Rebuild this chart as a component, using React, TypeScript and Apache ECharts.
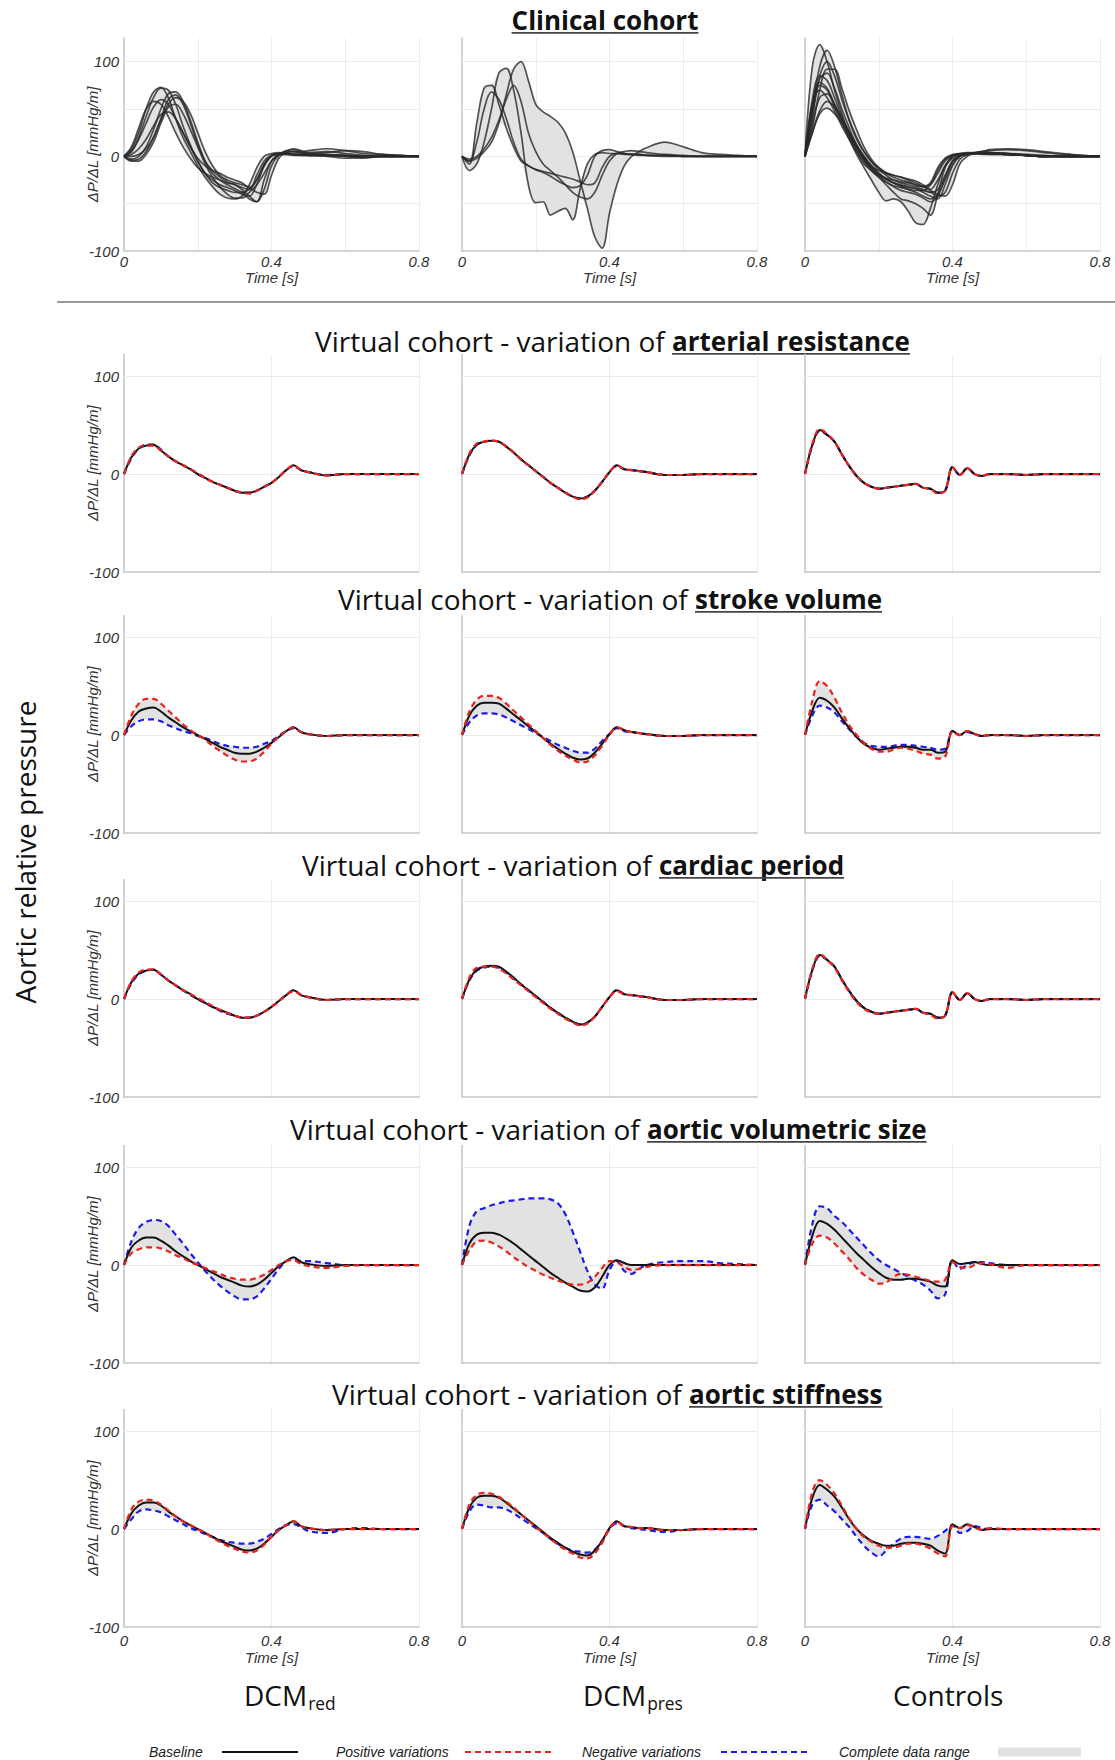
import React, { useEffect, useRef } from "react";
import * as echarts from "echarts";

// ---------- time grid (s) ----------
const T = [0, 0.02, 0.04, 0.06, 0.08, 0.1, 0.12, 0.14, 0.16, 0.18, 0.2, 0.22, 0.24, 0.26, 0.28, 0.3, 0.32, 0.34, 0.36, 0.38, 0.4, 0.42, 0.44, 0.46, 0.48, 0.5, 0.55, 0.6, 0.65, 0.7, 0.75, 0.8];

// ---------- clinical cohort (ΔP/ΔL, mmHg/m) ----------
const clinicalRed = [
  [0, 8, 25, 50, 68, 73, 62, 40, 20, 5, -10, -22, -32, -40, -44, -45, -42, -30, -12, 0, 3, 4, 3, 2, 2, 2, 1, 1, 0, 0, 0, 0],
  [0, 5, 20, 42, 62, 72, 70, 55, 32, 12, -5, -18, -25, -30, -33, -36, -40, -42, -30, -10, 1, 3, 3, 2, 2, 1, 1, 1, 0, 0, 0, 0],
  [0, -3, 0, 10, 28, 50, 66, 68, 58, 38, 15, -5, -18, -25, -30, -34, -38, -45, -48, -25, -5, 2, 6, 8, 6, 4, 5, 3, 1, 0, 0, 0],
  [0, -4, -3, 5, 20, 40, 60, 65, 55, 35, 12, -5, -15, -22, -27, -30, -35, -42, -48, -35, -10, 1, 4, 5, 4, 3, 4, 6, 5, 2, 1, 0],
  [0, 5, 18, 35, 52, 60, 55, 40, 25, 10, -2, -10, -15, -18, -22, -25, -28, -33, -25, -8, 1, 3, 3, 2, 2, 1, 1, 0, -2, 0, 0, 0],
  [0, 2, 8, 18, 32, 44, 47, 40, 25, 10, -5, -18, -28, -33, -36, -38, -38, -35, -25, -10, 0, 2, 2, 1, 1, 1, 0, -2, -1, 0, 0, 0],
  [0, -5, -5, 2, 15, 35, 52, 55, 45, 28, 10, -8, -22, -32, -40, -44, -44, -38, -30, -18, -5, 2, 5, 7, 5, 6, 8, 6, 3, 2, 1, 0],
  [0, 10, 30, 50, 58, 55, 42, 25, 10, -2, -12, -18, -22, -25, -28, -30, -33, -35, -20, -5, 1, 2, 2, 2, 1, 1, 1, 0, 0, 0, 0, 0],
  [0, 0, 2, 8, 20, 38, 55, 62, 58, 45, 25, 5, -10, -20, -25, -28, -30, -33, -38, -40, -20, -2, 4, 5, 4, 3, 2, 1, 0, 0, 0, 0],
];
const clinicalPres = [
  [0, -8, 35, 72, 75, 55, 30, 10, -5, -10, -14, -16, -18, -20, -22, -24, -27, -30, -28, -12, 0, 3, 3, 2, 2, 1, 1, 0, 0, 0, 0, 0],
  [0, -15, -8, 15, 50, 88, 93, 70, 25, -30, -49, -48, -62, -58, -55, -67, -35, -8, 2, 4, 3, 3, 2, 2, 1, 1, 1, 0, 0, 0, 0, 0],
  [0, -5, -2, 5, 15, 35, 65, 92, 100, 80, 55, 47, 42, 36, 25, 5, -25, -55, -85, -97, -60, -30, -10, 0, 5, 9, 15, 10, 4, 2, 1, 0],
  [0, -5, 15, 50, 68, 60, 40, 15, -3, -10, -14, -17, -21, -26, -30, -33, -31, -20, 0, 6, 7, 5, 3, 2, 2, 1, 0, 0, 0, 0, 0, 0],
  [0, -3, 0, 8, 20, 38, 60, 75, 58, 25, 5, -8, -15, -22, -30, -38, -43, -45, -38, -20, -5, 3, 5, 6, 5, 4, 2, 1, 0, 0, 0, 0],
];
const clinicalCtrl = [
  [0, 95, 118, 100, 70, 45, 22, 5, -8, -15, -20, -23, -25, -27, -28, -30, -32, -28, -12, -2, 2, 3, 3, 3, 4, 4, 3, 1, 0, 0, 0, 0],
  [0, 50, 95, 112, 95, 65, 38, 18, 5, -5, -12, -18, -22, -25, -27, -30, -32, -30, -18, -5, 1, 2, 3, 3, 4, 4, 3, 2, 1, 0, 0, 0],
  [0, 40, 85, 100, 85, 60, 38, 20, 5, -6, -14, -20, -25, -28, -30, -32, -35, -38, -35, -20, -5, 1, 3, 3, 3, 3, 2, 1, 0, 0, 0, 0],
  [0, 50, 82, 88, 72, 50, 30, 12, 0, -10, -18, -24, -28, -32, -35, -38, -42, -45, -40, -25, -8, 0, 2, 3, 3, 3, 2, 1, 0, 0, 0, 0],
  [0, 55, 78, 72, 55, 38, 22, 8, -4, -14, -22, -30, -38, -45, -47, -50, -55, -62, -40, -12, 0, 2, 3, 3, 3, 2, 2, 1, 0, 0, 0, 0],
  [0, 45, 75, 70, 52, 35, 18, 2, -12, -25, -38, -47, -45, -48, -58, -70, -72, -55, -30, -10, -2, 2, 3, 3, 2, 2, 2, 1, 0, 0, 0, 0],
  [0, 55, 70, 62, 48, 32, 18, 5, -6, -15, -22, -27, -31, -33, -35, -36, -36, -30, -15, -3, 1, 2, 2, 3, 3, 3, 2, 1, 0, 0, 0, 0],
  [0, 35, 62, 66, 55, 40, 25, 10, -3, -12, -18, -24, -28, -30, -32, -34, -38, -42, -45, -30, -10, 0, 2, 3, 3, 3, 2, 1, 0, 0, 0, 0],
  [0, 25, 48, 58, 52, 40, 26, 12, 0, -10, -18, -24, -28, -31, -33, -34, -36, -38, -42, -38, -18, -3, 2, 4, 5, 4, 3, 1, 0, 0, 0, 0],
  [0, 25, 45, 51, 45, 35, 22, 10, -2, -10, -15, -18, -20, -22, -24, -26, -30, -35, -25, -10, 0, 3, 4, 4, 5, 7, 8, 7, 5, 3, 1, 0],
  [0, 60, 85, 80, 62, 42, 25, 10, -2, -12, -20, -27, -32, -36, -38, -40, -44, -48, -42, -22, -5, 1, 3, 3, 3, 3, 2, 1, 0, 0, 0, 0],
  [0, 30, 70, 92, 92, 72, 48, 28, 10, -3, -12, -17, -20, -22, -25, -28, -32, -36, -40, -42, -30, -8, 0, 3, 5, 6, 7, 6, 4, 2, 1, 0],
];

// ---------- virtual cohort: arterial resistance ----------
const arRedBase = [0, 17, 26, 29, 30, 24, 18, 13, 9, 5, 0, -4, -8, -11, -14, -17, -19, -19, -17, -13, -9, -3, 4, 9, 4, 2, -1.5, 0, 0, 0, 0, 0];
const arRedPos = [0, 18, 27, 29, 29, 24, 18, 13, 9, 5, 1, -4, -8, -11, -14, -17, -19, -20, -17, -13, -9, -3, 4, 9, 4, 2, -1.5, 0, 0, 0, 0, 0];
const arRedNeg = [0, 16, 26, 30, 30, 25, 18, 13, 9, 5, 0, -4, -8, -11, -14, -17, -19, -19, -17, -13, -9, -3, 4, 8, 4, 2, -1, 0, 0, 0, 0, 0];
const arPresBase = [0, 20, 30, 33, 34, 33, 28, 22, 15, 9, 3, -3, -9, -14, -19, -23, -25, -23, -17, -8, 2, 9, 5, 4, 3, 2, -1, -1, 0, 0, 0, 0];
const arPresPos = [0, 21, 31, 33, 34, 33, 28, 22, 15, 9, 3, -3, -9, -14, -19, -23, -26, -24, -17, -8, 2, 9, 5, 4, 3, 2, -1, -1, 0, 0, 0, 0];
const arPresNeg = [0, 19, 30, 33, 34, 33, 28, 22, 15, 9, 3, -3, -9, -14, -19, -23, -25, -23, -17, -8, 2, 8, 5, 4, 3, 2, -1, -1, 0, 0, 0, 0];
const arCtrlBase = [0, 30, 45, 40, 33, 20, 8, -2, -9, -13, -15, -14, -13, -12, -11, -10, -14, -15, -19, -17, 7, -1, 6, 0, -2, 0, 0, -1, 0, 0, 0, 0];
const arCtrlPos = [0, 31, 46, 41, 33, 20, 8, -2, -9, -13, -15, -14, -13, -12, -11, -10, -14, -15, -20, -17, 7, -1, 6, 0, -2, 0, 0, -1, 0, 0, 0, 0];
const arCtrlNeg = [0, 29, 44, 40, 33, 20, 8, -2, -9, -13, -15, -14, -13, -12, -11, -10, -14, -15, -19, -17, 7, -1, 6, 0, -2, 0, 0, -1, 0, 0, 0, 0];

// ---------- virtual cohort: stroke volume ----------
const svRedBase = [0, 15, 24, 27, 28, 24, 18, 13, 8, 4, 0, -4, -8, -12, -15, -18, -19, -19, -17, -13, -8, -2, 4, 8, 3, 1, -1, 0, 0, 0, 0, 0];
const svRedPos = [0, 20, 32, 37, 37, 32, 25, 18, 11, 5, 0, -5, -11, -16, -21, -25, -27, -27, -24, -17, -9, -2, 4, 8, 3, 1, -1, 0, 0, 0, 0, 0];
const svRedNeg = [0, 9, 14, 16, 16, 14, 10, 7, 4, 2, -1, -3, -6, -9, -11, -12, -13, -13, -12, -9, -6, -1, 4, 7, 3, 1, -1, 0, 0, 0, 0, 0];
const svPresBase = [0, 20, 30, 33, 33, 32, 27, 21, 15, 9, 3, -3, -9, -14, -19, -23, -25, -24, -18, -9, 1, 8, 5, 3, 2, 1, -1, -1, 0, 0, 0, 0];
const svPresPos = [0, 24, 36, 40, 40, 38, 32, 25, 18, 11, 4, -3, -10, -16, -21, -25, -28, -27, -21, -11, 0, 8, 5, 3, 2, 1, -1, -1, 0, 0, 0, 0];
const svPresNeg = [0, 13, 20, 22, 22, 21, 18, 14, 10, 6, 2, -2, -6, -10, -13, -16, -18, -18, -14, -6, 1, 7, 4, 3, 2, 1, -1, -1, 0, 0, 0, 0];
const svCtrlBase = [0, 25, 38, 35, 28, 17, 7, -2, -9, -13, -15, -14, -13, -12, -12, -13, -15, -15, -18, -17, 4, 0, 4, 1, -1, 0, 0, -1, 0, 0, 0, 0];
const svCtrlPos = [0, 35, 55, 50, 38, 23, 10, 0, -8, -14, -17, -17, -15, -13, -14, -16, -19, -20, -24, -22, 3, 0, 4, 1, -1, 0, 0, -1, 0, 0, 0, 0];
const svCtrlNeg = [0, 20, 30, 28, 23, 14, 6, -2, -8, -11, -12, -12, -11, -10, -10, -11, -12, -13, -15, -14, 4, 0, 3, 1, -1, 0, 0, -1, 0, 0, 0, 0];

// ---------- virtual cohort: cardiac period ----------
const cpRedBase = [0, 17, 26, 29, 30, 25, 19, 14, 9, 5, 0, -4, -8, -11, -14, -17, -19, -19, -17, -13, -8, -2, 4, 9, 4, 2, -1, 0, 0, 0, 0, 0];
const cpRedPos = [0, 18, 27, 30, 30, 25, 19, 14, 9, 5, 1, -3, -7, -11, -14, -17, -19, -19, -17, -13, -8, -2, 4, 8, 4, 2, -1, 0, 0, 0, 0, 0];
const cpRedNeg = [0, 16, 25, 29, 30, 25, 19, 14, 9, 4, 0, -4, -8, -12, -15, -17, -19, -19, -17, -13, -8, -2, 4, 9, 4, 2, -1, 0, 0, 0, 0, 0];
const cpPresBase = [0, 20, 30, 33, 34, 33, 28, 22, 15, 9, 3, -3, -9, -14, -19, -23, -26, -24, -18, -8, 2, 9, 5, 4, 3, 2, -1, -1, 0, 0, 0, 0];
const cpPresPos = [0, 22, 32, 33, 33, 31, 26, 20, 14, 8, 2, -4, -10, -15, -20, -24, -27, -25, -18, -8, 2, 8, 5, 4, 3, 2, -1, -1, 0, 0, 0, 0];
const cpPresNeg = [0, 19, 29, 32, 33, 32, 27, 21, 15, 9, 3, -3, -9, -14, -19, -23, -26, -24, -18, -8, 2, 9, 5, 4, 3, 2, -1, -1, 0, 0, 0, 0];
const cpCtrlBase = [0, 30, 45, 40, 33, 20, 8, -2, -9, -13, -15, -14, -13, -12, -11, -10, -14, -15, -19, -17, 7, -1, 6, 0, -2, 0, 0, -1, 0, 0, 0, 0];
const cpCtrlPos = [0, 31, 46, 40, 32, 19, 7, -3, -10, -14, -15, -14, -13, -12, -11, -10, -14, -16, -20, -17, 7, -1, 6, 0, -2, 0, 0, -1, 0, 0, 0, 0];
const cpCtrlNeg = [0, 29, 44, 40, 33, 20, 8, -2, -9, -13, -15, -14, -13, -12, -11, -10, -14, -15, -19, -17, 7, -1, 6, 0, -2, 0, 0, -1, 0, 0, 0, 0];

// ---------- virtual cohort: aortic volumetric size ----------
const avRedBase = [0, 18, 25, 28, 28, 25, 20, 14, 9, 4, 0, -4, -8, -12, -15, -18, -21, -22, -20, -15, -8, -1, 4, 8, 3, 1, -1, 0, 0, 0, 0, 0];
const avRedPos = [0, 12, 16, 18, 18, 17, 14, 10, 7, 3, 0, -3, -6, -9, -12, -14, -15, -15, -13, -10, -5, 0, 4, 5, 1, -1, -3, -1, 0, 0, 0, 0];
const avRedNeg = [0, 24, 38, 44, 46, 45, 40, 31, 22, 12, 3, -6, -14, -21, -27, -32, -35, -35, -32, -24, -14, -4, 4, 6, 4, 4, 2, 0, 0, 0, 0, 0];
const avPresBase = [0, 22, 31, 33, 33, 31, 27, 22, 16, 10, 4, -2, -8, -13, -18, -22, -26, -27, -23, -12, 0, 5, 2, 0, 0, 0, 0, 0, 0, 0, 0, 0];
const avPresPos = [0, 15, 24, 25, 23, 19, 14, 8, 3, -2, -6, -10, -13, -16, -18, -20, -20, -18, -12, -3, 4, 3, -2, -5, -4, -2, 0, 0, 0, 0, 0, 0];
const avPresNeg = [0, 40, 55, 58, 61, 63, 65, 66, 67, 68, 68, 68, 67, 63, 52, 34, 14, -6, -20, -24, -5, 4, -6, -9, -4, 0, 3, 4, 4, 2, 1, 0];
const avCtrlBase = [0, 30, 45, 42, 36, 28, 20, 12, 5, -2, -8, -13, -15, -15, -14, -14, -15, -17, -21, -22, 5, 1, 2, 3, 1, 0, 0, 0, 0, 0, 0, 0];
const avCtrlPos = [0, 22, 30, 28, 22, 14, 6, -3, -10, -15, -19, -18, -12, -9, -10, -12, -14, -16, -17, -15, 3, -2, -3, 0, 2, 1, -3, 0, 0, 0, 0, 0];
const avCtrlNeg = [0, 42, 60, 58, 50, 44, 36, 28, 20, 12, 5, 0, -4, -8, -12, -16, -20, -26, -34, -30, 5, -4, 0, 3, 3, 2, 0, 0, 0, 0, 0, 0];

// ---------- virtual cohort: aortic stiffness ----------
const asRedBase = [0, 16, 24, 27, 27, 24, 18, 13, 8, 4, 0, -4, -8, -12, -15, -18, -21, -22, -20, -15, -8, -1, 4, 8, 3, 1, -1, 0, 0, 0, 0, 0];
const asRedPos = [0, 20, 28, 30, 29, 25, 19, 13, 8, 4, 0, -4, -9, -13, -17, -20, -23, -24, -22, -16, -8, -1, 4, 8, 3, 1, -1, 0, 0, 0, 0, 0];
const asRedNeg = [0, 10, 18, 20, 19, 17, 13, 9, 5, 1, -2, -5, -8, -11, -13, -14, -15, -15, -13, -10, -5, 0, 4, 5, 2, -2, -4, 0, 1, 0, 0, 0];
const asPresBase = [0, 22, 32, 34, 34, 32, 27, 21, 15, 9, 3, -3, -9, -14, -19, -23, -26, -27, -22, -12, 1, 8, 3, 2, 1, 1, -1, -1, 0, 0, 0, 0];
const asPresPos = [0, 25, 35, 37, 36, 33, 28, 22, 15, 9, 2, -4, -10, -16, -21, -25, -29, -30, -25, -14, 0, 7, 3, 2, 1, 1, -1, -1, 0, 0, 0, 0];
const asPresNeg = [0, 18, 25, 24, 22, 22, 20, 16, 11, 6, 1, -4, -10, -15, -19, -22, -23, -24, -21, -12, 0, 6, 3, 1, 0, -1, -3, -1, 0, 0, 0, 0];
const asCtrlBase = [0, 32, 45, 40, 33, 22, 10, 0, -7, -12, -15, -17, -17, -15, -14, -14, -15, -17, -22, -25, 5, 1, 5, 2, -1, 0, 0, 0, 0, 0, 0, 0];
const asCtrlPos = [0, 38, 50, 45, 36, 24, 11, 0, -8, -13, -17, -19, -19, -17, -15, -15, -17, -20, -25, -28, 3, 1, 4, 2, -1, 1, 0, 0, 0, 0, 0, 0];
const asCtrlNeg = [0, 25, 30, 24, 18, 10, 2, -8, -17, -24, -28, -22, -15, -10, -8, -8, -9, -10, -7, -2, 4, -4, -2, 3, 1, 0, 0, 0, 0, 0, 0, 0];

// ---------- labels ----------
const X_TICK_LABELS = ["0", "0.4", "0.8"];
const Y_TICK_VALUES = [-100, 0, 100];
const ROW_TITLES = [
  ["Virtual cohort - variation of ", "arterial resistance"],
  ["Virtual cohort - variation of ", "stroke volume"],
  ["Virtual cohort - variation of ", "cardiac period"],
  ["Virtual cohort - variation of ", "aortic volumetric size"],
  ["Virtual cohort - variation of ", "aortic stiffness"],
];
const COLUMN_LABELS = [["DCM", "red"], ["DCM", "pres"], ["Controls", ""]];
const LEGEND_LABELS = ["Baseline", "Positive variations", "Negative variations", "Complete data range"];

// ---------- layout ----------
const COL_LEFT = [124, 462, 805];
const COL_W = 295;
const ROW_Y100 = [376, 637, 901, 1167, 1431];
const TITLE_LEFT = [315, 338, 302, 290, 332];
const TITLE_Y = [341, 599, 865, 1129, 1394];
const TITLE_FAMILY = '"Open Sans", "Noto Sans", sans-serif';
const AXIS_FAMILY = '"Liberation Sans", Arial, sans-serif';
const RED = "#e8241c";
const BLUE = "#1c1ce6";
const BAND = "#e2e2e2";

function measure(text: string, font: string): number {
  const ctx = document.createElement("canvas").getContext("2d");
  if (!ctx) return text.length * 12;
  ctx.font = font;
  return ctx.measureText(text).width;
}

function buildOption() {
  const grid: any[] = [];
  const xAxis: any[] = [];
  const yAxis: any[] = [];
  const series: any[] = [];
  const smooth = 0.35;

  const addPanel = (
    left: number, top: number, height: number, yMax: number, xInt: number, yInt: number,
    showX: boolean, showY: boolean, labelMargin: number, nameGap: number
  ) => {
    const gi = grid.length;
    grid.push({ left, top, width: COL_W, height });
    xAxis.push({
      type: "value", gridIndex: gi, min: 0, max: 0.8, interval: xInt,
      axisLine: { show: true, onZero: false, lineStyle: { color: "#c6c6c6", width: 1.5 } },
      axisTick: { show: false },
      splitLine: { show: true, lineStyle: { color: "#ededed", width: 1 } },
      axisLabel: {
        show: showX, margin: labelMargin, fontStyle: "italic", fontSize: 15, color: "#333", fontFamily: AXIS_FAMILY,
        formatter: (v: number) => {
          const k = Math.round(v * 10);
          return k === 0 ? X_TICK_LABELS[0] : k === 4 ? X_TICK_LABELS[1] : k === 8 ? X_TICK_LABELS[2] : "";
        },
      },
      name: showX ? "Time [s]" : "", nameLocation: "middle", nameGap,
      nameTextStyle: { fontStyle: "italic", fontSize: 15, color: "#333", fontFamily: AXIS_FAMILY },
    });
    yAxis.push({
      type: "value", gridIndex: gi, min: -100, max: yMax, interval: yInt,
      axisLine: { show: true, onZero: false, lineStyle: { color: "#c6c6c6", width: 1.5 } },
      axisTick: { show: false },
      splitLine: { show: false },
      axisLabel: {
        show: showY, margin: 5, fontStyle: "italic", fontSize: 15, color: "#333", fontFamily: AXIS_FAMILY,
        formatter: (v: number) => (Y_TICK_VALUES.indexOf(v) >= 0 ? String(v) : ""),
      },
      name: showY ? "ΔP/ΔL [mmHg/m]" : "", nameLocation: "middle", nameGap: 24, nameMoveOverlap: false,
      nameTextStyle: { fontStyle: "italic", fontSize: 15, color: "#333", fontFamily: AXIS_FAMILY },
    });
    return gi;
  };

  // complete data range: polygon between min and max of the panel's curves
  const addBand = (gi: number, lines: number[][], gridVals: number[]) => {
    const lo = T.map((_, i) => Math.min(...lines.map((l) => l[i])));
    const hi = T.map((_, i) => Math.max(...lines.map((l) => l[i])));
    series.push({
      type: "custom", xAxisIndex: gi, yAxisIndex: gi, silent: true, z: 2,
      data: T.map((t, i) => [t, lo[i], hi[i]]),
      encode: { x: 0, y: [1, 2] },
      renderItem: (params: any, api: any) => {
        if (params.dataIndex !== 0) return null;
        const top = T.map((t, i) => api.coord([t, hi[i]]));
        const bot = T.map((t, i) => api.coord([t, lo[i]])).reverse();
        return {
          type: "polygon",
          shape: { points: top.concat(bot), smooth: 0.3 },
          style: { fill: BAND, stroke: "none" },
        };
      },
    });
    // horizontal grid lines
    series.push({
      type: "line", xAxisIndex: gi, yAxisIndex: gi, data: [], silent: true, z: 1,
      markLine: {
        silent: true, symbol: ["none", "none"], z: 1, label: { show: false },
        lineStyle: { color: "#ebebeb", width: 1, type: "solid" },
        data: gridVals.map((v) => ({ yAxis: v })),
      },
    });
  };

  const addLine = (gi: number, vals: number[], color: string, width: number, dashed: boolean, z: number) => {
    series.push({
      type: "line", xAxisIndex: gi, yAxisIndex: gi, data: T.map((t, i) => [t, vals[i]]),
      symbol: "none", smooth, silent: true, z,
      lineStyle: { color, width, type: dashed ? [6, 4] : "solid", cap: "butt" },
    });
  };

  // Row 1: clinical cohort
  const clinical = [clinicalRed, clinicalPres, clinicalCtrl];
  clinical.forEach((lines, c) => {
    const gi = addPanel(COL_LEFT[c], 38, 213, 125, 0.2, 50, true, c === 0, 3, 19);
    addBand(gi, lines, [100, 50, 0, -50]);
    lines.forEach((l) => addLine(gi, l, "rgba(40,40,40,0.8)", 1.7, false, 3));
  });

  // Rows 2-6: virtual cohort
  const virtualRows = [
    [[arRedBase, arRedPos, arRedNeg], [arPresBase, arPresPos, arPresNeg], [arCtrlBase, arCtrlPos, arCtrlNeg]],
    [[svRedBase, svRedPos, svRedNeg], [svPresBase, svPresPos, svPresNeg], [svCtrlBase, svCtrlPos, svCtrlNeg]],
    [[cpRedBase, cpRedPos, cpRedNeg], [cpPresBase, cpPresPos, cpPresNeg], [cpCtrlBase, cpCtrlPos, cpCtrlNeg]],
    [[avRedBase, avRedPos, avRedNeg], [avPresBase, avPresPos, avPresNeg], [avCtrlBase, avCtrlPos, avCtrlNeg]],
    [[asRedBase, asRedPos, asRedNeg], [asPresBase, asPresPos, asPresNeg], [asCtrlBase, asCtrlPos, asCtrlNeg]],
  ];
  virtualRows.forEach((row, r) => {
    row.forEach(([base, pos, neg], c) => {
      const last = r === virtualRows.length - 1;
      const gi = addPanel(COL_LEFT[c], ROW_Y100[r] - 21.5, 217.5, 122, 0.4, 100, last, c === 0, 6, 23);
      addBand(gi, [base, pos, neg], [100, 0]);
      addLine(gi, neg, BLUE, 2.2, true, 3);
      addLine(gi, base, "#111", 2, false, 4);
      addLine(gi, pos, RED, 2.2, true, 5);
    });
  });

  // ---------- graphic texts ----------
  const prefix = ROW_TITLES[0][0];
  const pw = measure(prefix, `24px ${TITLE_FAMILY}`);
  let fs = (24 * 357) / pw;
  fs = Math.max(18, Math.min(30, fs));
  const fontN = `${fs}px ${TITLE_FAMILY}`;
  const bw = measure(ROW_TITLES[0][1], `bold ${fs}px ${TITLE_FAMILY}`);
  let fsB = (fs * 238) / bw;
  fsB = Math.max(fs * 0.8, Math.min(fs, fsB));
  const fontB = `bold ${fsB}px ${TITLE_FAMILY}`;
  const g: any[] = [];
  const txt = (x: number, y: number, text: string, opts: any = {}) => {
    g.push({
      type: "text", x, y, silent: true, rotation: opts.rotation || 0,
      style: {
        text, fill: opts.fill || "#111", fontSize: opts.fontSize || fs, fontFamily: opts.fontFamily || TITLE_FAMILY,
        fontWeight: opts.fontWeight || "normal", fontStyle: opts.fontStyle || "normal",
        align: opts.align || "left", textAlign: opts.align || "left",
        verticalAlign: "middle", textVerticalAlign: "middle",
      },
    });
  };
  const uline = (x1: number, x2: number, y: number) => {
    g.push({ type: "line", silent: true, shape: { x1, y1: y, x2, y2: y }, style: { stroke: "#444", lineWidth: 1.6 } });
  };

  // clinical title
  const cw = measure("Clinical cohort", fontB);
  txt(605 - cw / 2, 20, "Clinical cohort", { fontWeight: "bold", fontSize: fsB });
  uline(605 - cw / 2, 605 + cw / 2, 20 + fs * 0.46);

  // separator
  g.push({ type: "line", silent: true, shape: { x1: 57, y1: 302, x2: 1115, y2: 302 }, style: { stroke: "#7a7a7a", lineWidth: 1.5 } });

  ROW_TITLES.forEach(([a, b], r) => {
    const wa = measure(a, fontN);
    const wb = measure(b, fontB);
    const x0 = TITLE_LEFT[r];
    const y = TITLE_Y[r];
    txt(x0, y, a);
    txt(x0 + wa, y, b, { fontWeight: "bold", fontSize: fsB });
    uline(x0 + wa, x0 + wa + wb, y + fs * 0.46);
  });

  // left label
  txt(25, 852, "Aortic relative pressure", { rotation: Math.PI / 2, align: "center" });

  // column labels
  const colLefts = [244, 583, 893];
  COLUMN_LABELS.forEach(([main, sub], c) => {
    txt(colLefts[c], 1695, main);
    if (sub) {
      const w = measure(main, fontN);
      txt(colLefts[c] + w + 1, 1703, sub, { fontSize: fs * 0.62 });
    }
  });

  // legend
  const legendY = 1752;
  const lfont = { fontSize: 14, fontStyle: "italic", fontFamily: AXIS_FAMILY, fill: "#222" };
  txt(149, legendY, LEGEND_LABELS[0], lfont);
  g.push({ type: "line", silent: true, shape: { x1: 222, y1: legendY, x2: 298, y2: legendY }, style: { stroke: "#111", lineWidth: 2 } });
  txt(336, legendY, LEGEND_LABELS[1], lfont);
  g.push({ type: "line", silent: true, shape: { x1: 465, y1: legendY, x2: 552, y2: legendY }, style: { stroke: RED, lineWidth: 2, lineDash: [6, 4] } });
  txt(582, legendY, LEGEND_LABELS[2], lfont);
  g.push({ type: "line", silent: true, shape: { x1: 721, y1: legendY, x2: 811, y2: legendY }, style: { stroke: BLUE, lineWidth: 2, lineDash: [6, 4] } });
  txt(839, legendY, LEGEND_LABELS[3], lfont);
  g.push({ type: "rect", silent: true, shape: { x: 998, y: legendY - 4.5, width: 83, height: 9 }, style: { fill: BAND } });

  return { animation: false, grid, xAxis, yAxis, series, graphic: g };
}

export default function App() {
  const ref = useRef<HTMLDivElement | null>(null);
  useEffect(() => {
    document.body.style.margin = "0";
    if (!ref.current) return;
    const chart = echarts.init(ref.current, null, { renderer: "svg" });
    chart.setOption(buildOption() as any);
    return () => chart.dispose();
  }, []);
  return <div ref={ref} style={{ width: 1115, height: 1760, background: "#fff" }} />;
}
